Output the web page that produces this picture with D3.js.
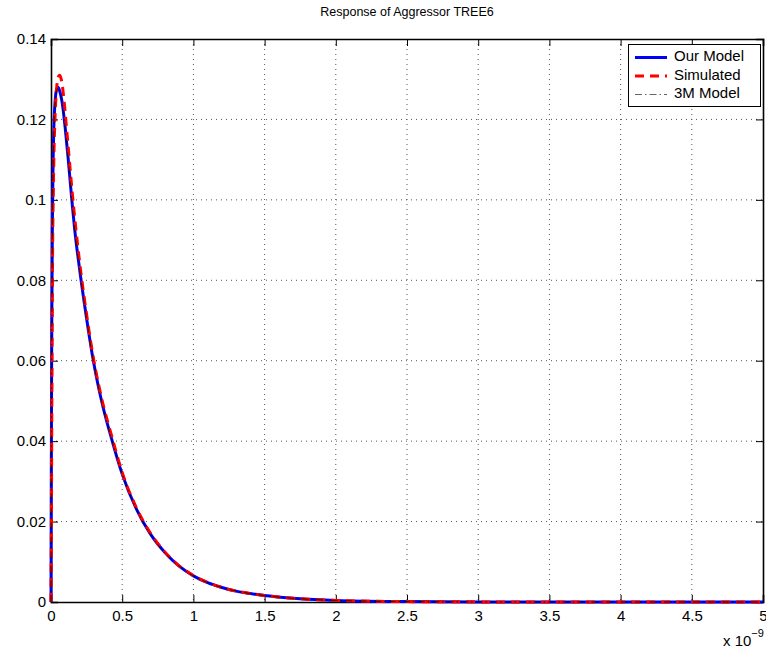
<!DOCTYPE html>
<html>
<head>
<meta charset="utf-8">
<script src="https://cdn.jsdelivr.net/npm/d3@7"></script>
<style>
  body { margin: 0; background: #fff; }
  svg { display: block; font-family: "Liberation Sans", Arial, sans-serif; }
</style>
</head>
<body>
<svg id="chart" width="766" height="651"></svg>
<script>
// ---- data (time in units of 1e-9 s) ----
const title = "Response of Aggressor TREE6";
const seriesNames = ["Our Model", "Simulated", "3M Model"];
const xTicks = [0, 0.5, 1, 1.5, 2, 2.5, 3, 3.5, 4, 4.5, 5];
const yTicks = [0, 0.02, 0.04, 0.06, 0.08, 0.1, 0.12, 0.14];

const timeOur = [0, 0.002, 0.005, 0.01, 0.015, 0.02, 0.03, 0.04, 0.05, 0.06, 0.07, 0.08, 0.09, 0.1, 0.12, 0.145, 0.17, 0.2, 0.25, 0.29, 0.35, 0.426, 0.5, 0.6, 0.7, 0.8, 0.9, 1.0, 1.1, 1.2, 1.3, 1.4, 1.5, 1.75, 2.0, 2.5, 3.0, 3.5, 4.0, 4.5, 5.0];
const valOur  = [0, 0.03, 0.065, 0.095, 0.11, 0.118, 0.125, 0.1275, 0.128, 0.1272, 0.1258, 0.1238, 0.121, 0.1178, 0.1105, 0.1005, 0.0915, 0.083, 0.0705, 0.0615, 0.0508, 0.0405, 0.0318, 0.0231, 0.0168, 0.0123, 0.0089, 0.0065, 0.0048, 0.0036, 0.0027, 0.0021, 0.0016, 0.0008, 0.0004, 0.0001, 0.00003, 0, 0, 0, 0];

const timeSim = [0, 0.003, 0.006, 0.01, 0.02, 0.03, 0.04, 0.05, 0.06, 0.07, 0.08, 0.09, 0.1, 0.12, 0.15, 0.2, 0.25, 0.3, 0.35, 0.43, 0.5, 0.6, 0.7, 0.8, 0.9, 1.0, 1.2, 1.4, 1.5, 1.75, 2.0, 2.5, 3.0, 3.5, 4.0, 4.5, 5.0];
const valSim  = [0, 0.02, 0.05, 0.08, 0.11, 0.122, 0.128, 0.1305, 0.131, 0.1303, 0.1283, 0.1253, 0.1215, 0.1135, 0.1015, 0.0848, 0.0715, 0.0602, 0.0515, 0.0408, 0.0322, 0.0234, 0.017, 0.0124, 0.009, 0.0066, 0.0036, 0.0021, 0.0016, 0.0008, 0.0004, 0.0001, 0.00003, 0, 0, 0, 0];

const time3M = [0, 0.002, 0.005, 0.01, 0.015, 0.02, 0.03, 0.04, 0.05, 0.06, 0.07, 0.08, 0.09, 0.1, 0.12, 0.145, 0.17, 0.2, 0.25, 0.29, 0.35, 0.426, 0.5, 0.6, 0.7, 0.8, 0.9, 1.0, 1.2, 1.4, 1.5, 1.75, 2.0, 2.5, 3.0, 4.0, 5.0];
const val3M   = [0, 0.028, 0.063, 0.093, 0.109, 0.117, 0.1245, 0.1272, 0.1278, 0.127, 0.1256, 0.1236, 0.1208, 0.1176, 0.1103, 0.1003, 0.0913, 0.0828, 0.0703, 0.0613, 0.0506, 0.0404, 0.0317, 0.023, 0.0167, 0.0122, 0.0089, 0.0065, 0.0036, 0.0021, 0.0016, 0.0008, 0.0004, 0.0001, 0.00003, 0, 0];

// ---- layout ----
const svg = d3.select("#chart");
const L = 51, R = 763, T = 39, B = 602;
const x = d3.scaleLinear().domain([0, 5]).range([L, R]);
const y = d3.scaleLinear().domain([0, 0.14]).range([B, T]);
const FONT = '"Liberation Sans", Arial, sans-serif';

// grid
const grid = svg.append("g");
grid.selectAll(".gx").data(xTicks.slice(1, -1)).enter().append("line")
  .attr("x1", d => x(d)).attr("x2", d => x(d)).attr("y1", T).attr("y2", B)
  .attr("stroke", "#555").attr("stroke-width", 1).attr("stroke-dasharray", "1,4");
grid.selectAll(".gy").data(yTicks.slice(1, -1)).enter().append("line")
  .attr("y1", d => y(d)).attr("y2", d => y(d)).attr("x1", L).attr("x2", R)
  .attr("stroke", "#555").attr("stroke-width", 1).attr("stroke-dasharray", "1,4");

// axes (inside ticks, box)
const tickLen = 7;
const axB = svg.append("g").attr("transform", `translate(0,${B})`)
  .call(d3.axisBottom(x).tickValues(xTicks).tickSize(-tickLen).tickPadding(8).tickFormat(d3.format("")));
const axT = svg.append("g").attr("transform", `translate(0,${T})`)
  .call(d3.axisTop(x).tickValues(xTicks).tickSize(-tickLen).tickFormat(""));
const axL = svg.append("g").attr("transform", `translate(${L},0)`)
  .call(d3.axisLeft(y).tickValues(yTicks).tickSize(-tickLen).tickPadding(5).tickFormat(d3.format("")));
const axR = svg.append("g").attr("transform", `translate(${R},0)`)
  .call(d3.axisRight(y).tickValues(yTicks).tickSize(-tickLen).tickFormat(""));
[axB, axT, axL, axR].forEach(a => {
  a.select(".domain").attr("stroke", "#000").attr("stroke-width", 1.6);
  a.selectAll(".tick line").attr("stroke", "#000").attr("stroke-width", 1);
  a.selectAll("text").attr("font-size", 15).attr("fill", "#000").attr("font-family", FONT);
});

// lines
const line = d3.line().curve(d3.curveMonotoneX).x(d => x(d[0])).y(d => y(d[1]));
const zip = (a, b) => a.map((t, i) => [t, b[i]]);
const plot = svg.append("g");
plot.append("path").datum(zip(timeOur, valOur)).attr("d", line)
  .attr("fill", "none").attr("stroke", "#0000ff").attr("stroke-width", 3).attr("stroke-linejoin", "round");
plot.append("path").datum(zip(timeSim, valSim)).attr("d", line)
  .attr("fill", "none").attr("stroke", "#ff0000").attr("stroke-width", 3).attr("stroke-dasharray", "9,6");
plot.append("path").datum(zip(time3M, val3M)).attr("d", line)
  .attr("fill", "none").attr("stroke", "#000").attr("stroke-width", 0.8).attr("stroke-dasharray", "7,3,1.5,3");

// title
svg.append("text").attr("x", (L + R) / 2).attr("y", 16).attr("text-anchor", "middle")
  .attr("font-size", 12.5).attr("fill", "#000").text(title);

// exponent label
const ex = svg.append("text").attr("x", 723).attr("y", 646).attr("font-size", 15).attr("fill", "#000");
ex.append("tspan").text("x 10");
ex.append("tspan").attr("dy", -9).attr("font-size", 11).text("−9");

// legend
const lg = svg.append("g");
lg.append("rect").attr("x", 628.5).attr("y", 44.5).attr("width", 132).attr("height", 62)
  .attr("fill", "#fff").attr("stroke", "#000").attr("stroke-width", 1);
const lgY = [57.5, 76, 94.5];
const styles = [
  { c: "#0000ff", w: 3, d: null },
  { c: "#ff0000", w: 3, d: "9,6" },
  { c: "#666", w: 1, d: "7,3,1.5,3" }
];
seriesNames.forEach((n, i) => {
  lg.append("line").attr("x1", 635).attr("x2", 667).attr("y1", lgY[i]).attr("y2", lgY[i])
    .attr("stroke", styles[i].c).attr("stroke-width", styles[i].w)
    .attr("stroke-dasharray", styles[i].d);
  lg.append("text").attr("x", 674).attr("y", lgY[i] - 1.5).attr("dy", "0.35em")
    .attr("font-size", 15).attr("fill", "#000").text(n);
});
</script>
</body>
</html>
